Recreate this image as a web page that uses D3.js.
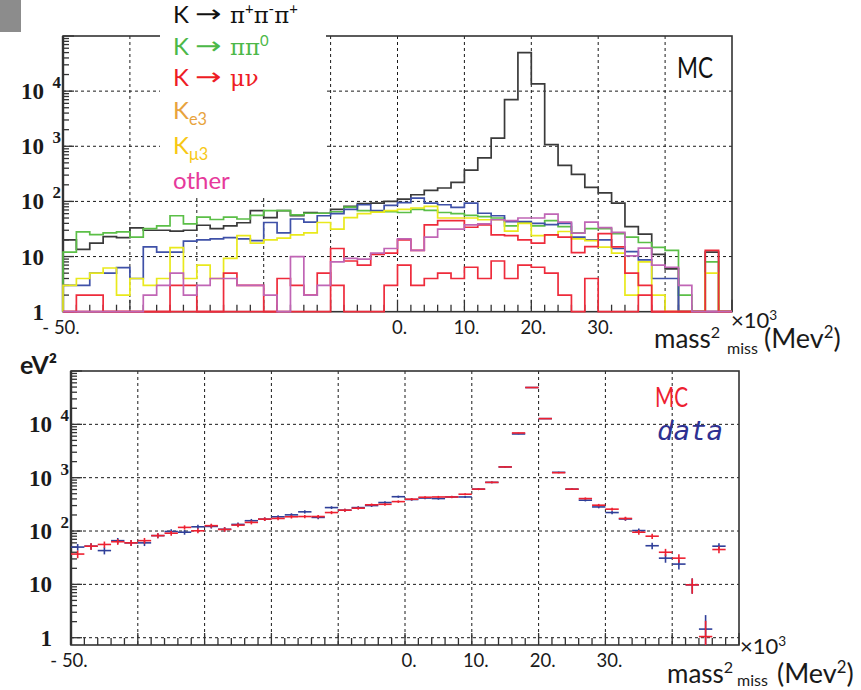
<!DOCTYPE html>
<html>
<head>
<meta charset="utf-8">
<script src="https://cdn.jsdelivr.net/npm/d3@7"></script>
<style>
  body { margin: 0; background: #fff; }
  svg { display: block; }
</style>
</head>
<body>
<svg id="chart" width="861" height="690"></svg>
<script>
// ---- binning: missing mass squared, ×10³ MeV², 2-unit bins from -50 to 50 ----
const binEdges = d3.range(-50, 51, 2);

// ---- MC decay-channel histograms (entries per bin) ----
const k3pi = [20, 13.5, 17.5, 23, 22, 33, 30, 30, 29, 30, 37, 32, 36, 41, 68, 51, 68, 55, 63, 61,
  72, 81, 91, 93, 100, 110, 132, 158, 175, 222, 370, 615, 1400, 7000, 50000, 13500, 1070, 450, 310, 180,
  143, 93, 35, 25.5, 11, 6, 1, 1, 12, 1];
const kpipi0 = [12, 28, 25, 27, 28, 22.5, 32, 36, 55, 39, 52, 47, 52, 48, 56, 68, 68, 57, 61, 61,
  65, 79, 68, 66, 65, 63, 72, 69, 63, 60, 56, 53, 50, 36, 41, 36, 45, 35, 27, 32,
  32, 26, 22.5, 18, 14.7, 13, 2, 1, 8, 1];
const ke3 = [3, 3, 5, 5, 6.3, 4, 15, 12, 12, 19, 20, 21, 22, 21, 19.5, 41.5, 27, 48, 42, 55,
  60, 72, 87, 68, 85, 95, 115, 93, 87, 78, 93, 61, 55, 43, 43, 40, 38, 40, 22.5, 20,
  20, 14, 12.3, 8.7, 4, 4, 1, 1, 1, 1];
const kmu3 = [3, 4, 5, 6.2, 2, 4, 3, 4, 14.5, 4, 7, 4, 9.3, 24, 17.5, 20, 21.6, 24.7, 27, 41.5,
  31.5, 51, 60, 64, 68, 72, 76, 81, 50, 50, 50, 46.5, 46.5, 29, 40, 24, 24.7, 28.5, 21, 19.5,
  14.8, 11.5, 2, 8, 2, 1, 1, 1, 5, 1];
const kmunu = [1, 1, 1, 1, 1, 1, 1, 1, 1, 1, 1, 1, 1, 1, 1, 1, 1, 1, 1, 1,
  14, 8.3, 7, 11, 11.5, 20, 13, 37.6, 45, 45, 34, 37.6, 24.7, 24, 20, 17.5, 24.7, 22.5, 11.8, 15.2,
  26, 15, 5, 3, 1, 1, 1, 1, 13, 1];
const kmunuTail = [1, 2, 2, 1, 1, 1, 1, 1, 3, 3, 1, 1, 5, 3, 3, 1, 4, 3, 2, 5,
  3, 1, 1, 1, 3, 7, 3, 4, 5, 4, 6.4, 4, 8.3, 4, 7, 6.4, 5, 2, 1, 4,
  1, 1, 1, 2, 1, 1, 1, 1, 1, 1];
const otherModes = [1, 1, 1, 1, 1, 1, 2, 3, 5, 2, 3, 4, 4, 3, 3, 2, 1, 10, 2, 3,
  8, 9.3, 9, 11.5, 14, 21, 13, 22.5, 31.4, 31.4, 37.6, 39, 46.5, 45, 50, 50, 59, 42, 26.5, 42,
  33.6, 27.4, 10.3, 14.2, 7, 6.4, 3, 1, 1, 1];

// ---- MC vs data comparison (null = empty bin) ----
const mcTotal = [37, 52, 56, 63, 60, 66, 82, 91, 117, 101, 126, 107, 129, 145, 167, 172, 185, 187, 187, 222,
  246, 268, 310, 317, 356, 395, 430, 435, 435, 490, 610, 817, 1590, 6900, 49000, 12800, 1240, 610, 406, 305,
  257, 172, 95, 80, 40, 31, 9.8, 1.05, 45, null];
const dataCounts = [50, 52, 43, 66, 60, 60, 82, 98, 95, 120, 122, 108, 133, 156, 167, 185, 201, 229, 180, 275,
  246, 275, 300, 342, 440, 390, 415, 406, 435, 435, 610, 817, 1590, 6600, 49000, 12800, 1260, 610, 378, 283,
  222, 168, 102, 53, 31, 24, 9.8, 1.45, 52, null];

// ---- axis labels ----
const xTickValues = [-50, 0, 10, 20, 30];
const xTickLabels = ["- 50.", "0.", "10.", "20.", "30."];
const yTickValues = [1, 10, 100, 1000, 10000];
const yTickBases = ["1", "10", "10", "10", "10"];
const yTickExponents = ["", "", "2", "3", "4"];

// histogram draw order with line colours
const histSeries = [
  { values: k3pi, color: "#3a3a3a" },
  { values: kpipi0, color: "#5bbf47" },
  { values: ke3, color: "#3f51a8" },
  { values: kmu3, color: "#e9e91c" },
  { values: kmunu, color: "#ee2b3b" },
  { values: kmunuTail, color: "#ee2b3b" },
  { values: otherModes, color: "#c065b5" }
];

// legend: decay label, optional arrow, product runs [text, kind, optional absolute x]
const legendEntries = [
  { color: "#111111", arrow: true, parts: [["K", "n"], ["\u03c0", "g", 230], ["+", "sup"], ["\u03c0", "g"], ["-", "sup"], ["\u03c0", "g"], ["+", "sup"]] },
  { color: "#4cb848", arrow: true, parts: [["K", "n"], ["\u03c0\u03c0", "g", 230], ["0", "sup"]] },
  { color: "#ee1c25", arrow: true, parts: [["K", "n"], ["\u03bc\u03bd", "g", 230]] },
  { color: "#e8a33d", arrow: false, parts: [["K", "n"], ["e3", "sub"]] },
  { color: "#f7c815", arrow: false, parts: [["K", "n"], ["\u03bc3", "sub"]] },
  { color: "#e6399b", arrow: false, parts: [["other", "n"]] }
];

const SANS = "Lato, 'Open Sans', sans-serif";
const SERIF = "'Liberation Serif', 'DejaVu Serif', serif";
const GREEK = "'DejaVu Serif', serif";

const svg = d3.select("#chart");
svg.append("rect").attr("width", 861).attr("height", 690).attr("fill", "#fff");

// text made of runs: normal, greek, superscript, subscript
function richText(parent, x, y, parts, size, color) {
  const t = parent.append("text").attr("x", x).attr("y", y)
    .attr("font-family", SANS).attr("font-size", size).attr("fill", color);
  let shift = 0;
  parts.forEach(([s, kind, px]) => {
    const sp = t.append("tspan").text(s);
    if (px != null) sp.attr("x", px);
    let target = 0;
    if (kind === "sup") { target = -size * 0.38; sp.attr("font-size", size * 0.62); }
    else if (kind === "sub") { target = size * 0.25; sp.attr("font-size", size * 0.68); }
    else if (kind === "g") { sp.attr("font-family", GREEK).attr("font-size", size * 0.95); }
    if (target !== shift) { sp.attr("dy", target - shift); shift = target; }
  });
  return t;
}

function panel(cfg) {
  const { x, y, g } = cfg;
  const [x0, x1] = x.range();
  const [yb, yt] = y.range();

  // dotted grid
  const grid = g.append("g").attr("stroke", "#1a1a1a").attr("stroke-width", 1)
    .attr("stroke-dasharray", "3,3");
  grid.selectAll("line.v").data(d3.range(-40, 41, 10)).join("line")
    .attr("x1", d => x(d)).attr("x2", d => x(d)).attr("y1", yt).attr("y2", yb);
  grid.selectAll("line.h").data(cfg.gridY).join("line")
    .attr("x1", x0).attr("x2", x1).attr("y1", d => y(d)).attr("y2", d => y(d));

  // frame
  g.append("rect").attr("x", x0).attr("y", yt).attr("width", x1 - x0).attr("height", yb - yt)
    .attr("fill", "none").attr("stroke", "#333").attr("stroke-width", 1.6);
  g.append("line").attr("x1", x0).attr("x2", x0).attr("y1", yt).attr("y2", yb)
    .attr("stroke", "#333").attr("stroke-width", 2.4);

  // log ticks on the left axis
  const yt0 = y.ticks().filter(d => d >= 1 && d <= 1e5);
  g.append("g").attr("stroke", "#333").attr("stroke-width", 1.3)
    .selectAll("line").data(yt0).join("line")
    .attr("x1", x0).attr("x2", d => x0 + (Math.abs(Math.log10(d) % 1) < 1e-9 ? 11 : 6))
    .attr("y1", d => y(d)).attr("y2", d => y(d));

  // linear ticks on the bottom axis
  g.append("g").attr("stroke", "#333").attr("stroke-width", 1.3)
    .selectAll("line").data(binEdges).join("line")
    .attr("x1", d => x(d)).attr("x2", d => x(d))
    .attr("y1", yb).attr("y2", d => yb - (d % 10 === 0 ? 12 : 7));

  // y tick labels
  const yl = g.append("g").attr("font-family", SERIF).attr("font-weight", "bold").attr("fill", "#1a1a1a");
  yTickValues.forEach((v, i) => {
    yl.append("text").attr("x", x0 - 19).attr("y", y(v) + 8).attr("text-anchor", "end")
      .attr("font-size", 23).text(yTickBases[i]);
    if (yTickExponents[i]) {
      yl.append("text").attr("x", x0 - 10.5).attr("y", y(v) - 3).attr("font-size", 17)
        .text(yTickExponents[i]);
    }
  });

  // x tick labels
  const xl = g.append("g").attr("font-family", SANS).attr("font-size", 18.5).attr("fill", "#1a1a1a")
    .attr("text-anchor", "middle");
  xTickValues.forEach((v, i) => {
    xl.append("text").attr("x", x(v) + (v < 0 ? -2 : cfg.xLabelShift)).attr("y", cfg.xLabelY)
      .text(xTickLabels[i]);
  });

  // axis title
  const tt = cfg.title;
  richText(g, tt.mass[0], tt.mass[1], [["mass", "n"], ["2", "sup"]], 26, "#1a1a1a");
  g.append("text").attr("x", tt.miss[0]).attr("y", tt.miss[1]).attr("font-family", SANS)
    .attr("font-size", 16).attr("fill", "#1a1a1a").text("miss");
  richText(g, tt.exp[0], tt.exp[1], [["\u00d710", "n"], ["3", "sup"]], 22, "#1a1a1a");
  richText(g, tt.unit[0], tt.unit[1], [["(Mev", "n"], ["2", "sup"], [")", "n"]], 27, "#1a1a1a");
}

// ===== upper panel: MC composition =====
const xTop = d3.scaleLinear().domain([-50, 50]).range([63, 732]);
const yTop = d3.scaleLog().domain([1, 1e5]).range([311.7, 36]);
const gTop = svg.append("g");
panel({
  g: gTop, x: xTop, y: yTop, gridY: [10, 100, 1000, 10000],
  xLabelY: 334, xLabelShift: 2,
  title: { mass: [654, 348], miss: [727, 354], exp: [731, 328], unit: [764, 348] }
});

const histLayer = gTop.append("g").attr("fill", "none").attr("stroke-width", 1.7)
  .attr("stroke-linejoin", "miter");
histSeries.forEach(s => {
  const pts = [[xTop(binEdges[0]), yTop(1)]];
  s.values.forEach((v, i) => {
    pts.push([xTop(binEdges[i]), yTop(v)]);
    pts.push([xTop(binEdges[i + 1]), yTop(v)]);
  });
  pts.push([xTop(binEdges[binEdges.length - 1]), yTop(1)]);
  histLayer.append("path").attr("d", d3.line()(pts)).attr("stroke", s.color);
});

// legend block
const legend = svg.append("g");
legend.append("rect").attr("x", 160).attr("y", 0).attr("width", 166).attr("height", 196).attr("fill", "#fff");
const legendY = [23, 55, 86, 119, 154, 189];
legendEntries.forEach((e, i) => {
  richText(legend, 173, legendY[i], e.parts, 24, e.color);
  if (e.arrow) {
    // long decay arrow, stretched horizontally
    legend.append("text").attr("transform", `translate(195,${legendY[i] - 1}) scale(1.32,1)`)
      .attr("font-family", "'DejaVu Sans', sans-serif").attr("font-size", 24)
      .attr("fill", e.color).text("\u2192");
  }
});

svg.append("text").attr("x", 677).attr("y", 78).attr("font-family", SANS).attr("font-size", 29)
  .attr("fill", "#111").attr("textLength", 36).attr("lengthAdjust", "spacingAndGlyphs").text("MC");

svg.append("rect").attr("x", 0).attr("y", 0).attr("width", 21).attr("height", 32).attr("fill", "#8c8c8c");

// ===== lower panel: MC vs data =====
const xBot = d3.scaleLinear().domain([-50, 50]).range([71, 739]);
const yBot = d3.scaleLog().domain([0.73, 1e5]).range([645, 371]);
const gBot = svg.append("g");
panel({
  g: gBot, x: xBot, y: yBot, gridY: [1, 10, 100, 1000, 10000],
  xLabelY: 667, xLabelShift: 4,
  title: { mass: [667, 683], miss: [737, 686], exp: [740, 654], unit: [777, 683] }
});

svg.append("defs").append("clipPath").attr("id", "botClip")
  .append("rect").attr("x", 71).attr("y", 371).attr("width", 668).attr("height", 274);

function crosses(values, color) {
  const layer = gBot.append("g").attr("clip-path", "url(#botClip)").attr("stroke", color)
    .attr("stroke-width", 1.6);
  values.forEach((v, i) => {
    if (v == null) return;
    const xa = xBot(binEdges[i]), xb = xBot(binEdges[i + 1]), xc = (xa + xb) / 2;
    const err = Math.sqrt(v);
    layer.append("line").attr("x1", xa).attr("x2", xb).attr("y1", yBot(v)).attr("y2", yBot(v));
    layer.append("line").attr("x1", xc).attr("x2", xc)
      .attr("y1", yBot(v + err)).attr("y2", yBot(Math.max(v - err, 0.5)));
  });
}
crosses(dataCounts, "#2f3f99");
crosses(mcTotal, "#ee2030");

svg.append("text").attr("x", 655).attr("y", 407).attr("font-family", SANS).attr("font-size", 27)
  .attr("fill", "#ee2030").attr("textLength", 33).attr("lengthAdjust", "spacingAndGlyphs").text("MC");
svg.append("text").attr("x", 657).attr("y", 440).attr("font-family", "'DejaVu Sans Mono', monospace")
  .attr("font-style", "italic").attr("font-size", 26).attr("fill", "#2e3192")
  .attr("textLength", 66).attr("lengthAdjust", "spacingAndGlyphs").text("data");

svg.append("text").attr("x", 20).attr("y", 374).attr("font-family", SANS).attr("font-weight", "bold")
  .attr("font-size", 25).attr("fill", "#1a1a1a").text("eV\u00b2");
</script>
</body>
</html>
